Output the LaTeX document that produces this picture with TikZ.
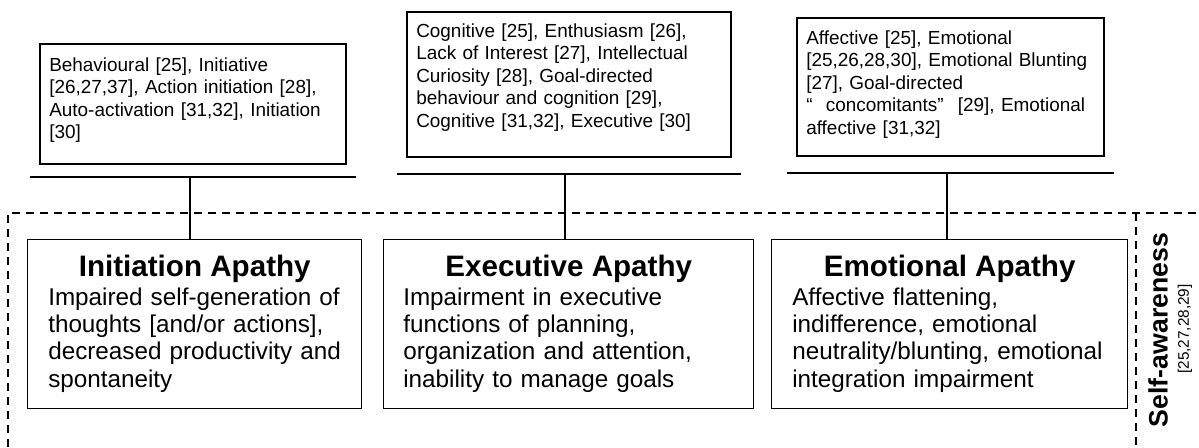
\documentclass[tikz,border=0pt]{standalone}
\usepackage{fontspec}
\setmainfont{Liberation Sans}
\usetikzlibrary{calc}

\tikzset{
  cuebox/.style={draw, line width=1.3pt, anchor=north west, inner sep=0pt},
  cuetext/.style={anchor=base west, inner sep=0pt, text width=225pt, align=left,
    font=\fontsize{14.2}{16.9}\selectfont},
  apbox/.style={draw, line width=1.1pt, anchor=north west, inner sep=0pt,
    minimum height=126.75pt},
  aptitle/.style={anchor=base, inner sep=0pt, font=\fontsize{22.2}{26}\selectfont\bfseries},
  aptext/.style={anchor=base west, inner sep=0pt, text width=240pt, align=left,
    font=\fontsize{18.2}{20.5}\selectfont},
  bar/.style={line width=1.4pt},
  link/.style={line width=1.4pt},
  frame/.style={line width=0.9pt, dash pattern=on 6pt off 4.5pt}
}

\begin{document}
\begin{tikzpicture}[x=0.75pt, y=-0.75pt]
  \useasboundingbox (0,0) rectangle (1199,447);

  % terms used in the literature
  \node[cuebox, minimum width=229.5pt, minimum height=90pt] (cue1) at (39,43) {};
  \node[cuetext] (cuetxt1) at ($(cue1.north west)+(10,28)$)
    {Behavioural [25], Initiative\\{}[26,27,37], Action initiation [28],\\
     Auto-activation [31,32], Initiation\\{}[30]};

  \node[cuebox, minimum width=243pt, minimum height=108.75pt] (cue2) at (406,11) {};
  \node[cuetext] (cuetxt2) at ($(cue2.north west)+(10,26)$)
    {Cognitive [25], Enthusiasm [26],\\ Lack of Interest [27], Intellectual\\
     Curiosity [28], Goal-directed\\ behaviour and cognition [29],\\
     Cognitive [31,32], Executive [30]};

  \node[cuebox, minimum width=230.25pt, minimum height=103.5pt] (cue3) at (796,17) {};
  \node[cuetext] (cuetxt3) at ($(cue3.north west)+(10,27)$)
    {Affective [25], Emotional\\{}[25,26,28,30], Emotional Blunting\\{}
     [27], Goal-directed\\ “\hspace{0.7em}concomitants”\hspace{0.75em}[29], Emotional\\
     affective [31,32]};

  % bars under the terms
  \coordinate (bar1w) at ($(cue1.south west)+(-9,12)$);
  \coordinate (bar1e) at ($(cue1.south east)+(9,12)$);
  \coordinate (bar2w) at ($(cue2.south west)+(-9,16)$);
  \coordinate (bar2e) at ($(cue2.south east)+(9,16)$);
  \coordinate (bar3w) at ($(cue3.south west)+(-9,16)$);
  \coordinate (bar3e) at ($(cue3.south east)+(9,16)$);
  \draw[bar] (bar1w) -- (bar1e);
  \draw[bar] (bar2w) -- (bar2e);
  \draw[bar] (bar3w) -- (bar3e);
  \coordinate (bar1) at (190,0 |- bar1w);
  \coordinate (bar2) at (565,0 |- bar2w);
  \coordinate (bar3) at (947,0 |- bar3w);

  % self-awareness frame
  \draw[frame] (8,447) -- (8,213) -- (1199,213);
  \draw[frame] (1136,213) -- (1136,447);
  \node[rotate=90, inner sep=0pt, font=\fontsize{20}{24}\selectfont\bfseries]
    (aware) at (1158,330) {Self-awareness};
  \node[rotate=90, inner sep=0pt, font=\fontsize{11.5}{13}\selectfont]
    (awarecite) at (1185,329) {[25,27,28,29]};

  % apathy dimensions
  \node[apbox, minimum width=250.5pt] (init) at (27,239) {};
  \node[aptitle] (inittitle) at ($(init.north)+(0,37)$) {Initiation Apathy};
  \node[aptext] (inittext) at ($(init.north west)+(21,66)$)
    {Impaired self-generation of\\ thoughts [and/or actions],\\
     decreased productivity and\\ spontaneity};

  \node[apbox, minimum width=277.5pt] (exec) at (383,239) {};
  \node[aptitle] (exectitle) at ($(exec.north)+(0,37)$) {Executive Apathy};
  \node[aptext] (exectext) at ($(exec.north west)+(20,66)$)
    {Impairment in executive\\ functions of planning,\\
     organization and attention,\\ inability to manage goals};

  \node[apbox, minimum width=267pt] (emot) at (771,239) {};
  \node[aptitle] (emottitle) at ($(emot.north)+(0,37)$) {Emotional Apathy};
  \node[aptext] (emottext) at ($(emot.north west)+(21,66)$)
    {Affective flattening,\\ indifference, emotional\\
     neutrality/blunting, emotional\\ integration impairment};

  \draw[link] (bar1) -- (bar1 |- init.north);
  \draw[link] (bar2) -- (bar2 |- exec.north);
  \draw[link] (bar3) -- (bar3 |- emot.north);
\end{tikzpicture}
\end{document}
